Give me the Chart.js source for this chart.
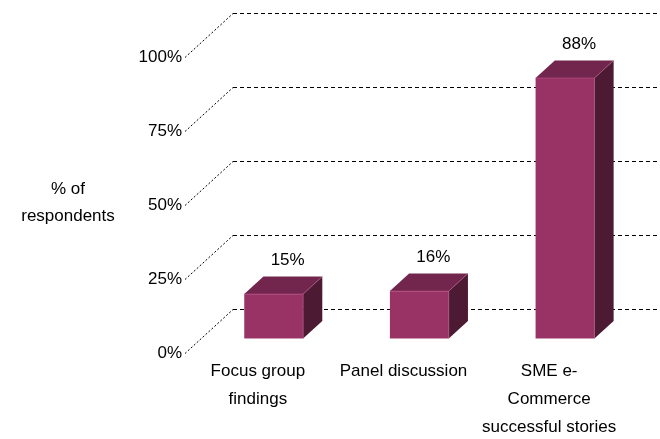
<!DOCTYPE html>
<html>
<head>
<meta charset="utf-8">
<script src="https://cdn.jsdelivr.net/npm/chart.js@4"></script>
<style>
  html, body { margin: 0; padding: 0; background: #fff; }
  #wrap { width: 660px; height: 439px; }
</style>
</head>
<body>
<div id="wrap"><canvas id="chart"></canvas></div>
<script>
const categories = [["Focus group", "findings"], ["Panel discussion"], ["SME e-", "Commerce", "successful stories"]];
const respondents = [15, 16, 88];
const yTicks = [0, 25, 50, 75, 100];
const axisTitle = ["% of", "respondents"];

const FONT = "'Liberation Sans', Arial, sans-serif";
const FRONT = "#993366";
const TOP = "#73264d";
const SIDE = "#4d1a33";

// the box depth of the whole plot, and where the bars sit inside it
const DEPTH_X = 48, DEPTH_Y = -44;
const BAR_START = 0.33, BAR_DEPTH = 0.4;

const box3d = {
  id: "box3d",
  beforeDatasetsDraw(chart) {
    const { ctx, chartArea: a, scales: { y } } = chart;
    ctx.save();
    ctx.strokeStyle = "#000";
    ctx.lineWidth = 1;
    yTicks.forEach(v => {
      const py = Math.round(y.getPixelForValue(v)) + 0.5;
      // dotted diagonal from the front edge back to the wall
      ctx.setLineDash([2, 2]);
      ctx.beginPath();
      ctx.moveTo(a.left, py);
      ctx.lineTo(a.left + DEPTH_X, py + DEPTH_Y);
      ctx.stroke();
      // dashed gridline along the back wall
      ctx.setLineDash([4, 3]);
      ctx.beginPath();
      ctx.moveTo(a.left + DEPTH_X, py + DEPTH_Y);
      ctx.lineTo(a.right + DEPTH_X, py + DEPTH_Y);
      ctx.stroke();
    });
    ctx.restore();
  },
  afterDatasetsDraw(chart) {
    const { ctx } = chart;
    const meta = chart.getDatasetMeta(0);
    const ox = DEPTH_X * BAR_START, oy = DEPTH_Y * BAR_START;
    const dx = DEPTH_X * BAR_DEPTH, dy = DEPTH_Y * BAR_DEPTH;
    ctx.save();
    meta.data.forEach((bar, i) => {
      const p = bar.getProps(["x", "y", "base", "width"], true);
      const l = p.x - p.width / 2 + ox, r = p.x + p.width / 2 + ox;
      const t = p.y + oy, b = p.base + oy;
      // front
      ctx.fillStyle = FRONT;
      ctx.fillRect(l, t, r - l, b - t);
      // top
      ctx.fillStyle = TOP;
      ctx.beginPath();
      ctx.moveTo(l, t);
      ctx.lineTo(l + dx, t + dy);
      ctx.lineTo(r + dx, t + dy);
      ctx.lineTo(r, t);
      ctx.closePath();
      ctx.fill();
      // side
      ctx.fillStyle = SIDE;
      ctx.beginPath();
      ctx.moveTo(r, t);
      ctx.lineTo(r + dx, t + dy);
      ctx.lineTo(r + dx, b + dy);
      ctx.lineTo(r, b);
      ctx.closePath();
      ctx.fill();
      // soft light edges
      ctx.strokeStyle = "rgba(190,90,140,0.55)";
      ctx.lineWidth = 1;
      ctx.beginPath();
      ctx.moveTo(l, t);
      ctx.lineTo(r, t);
      ctx.lineTo(r + dx, t + dy);
      ctx.moveTo(r, t);
      ctx.lineTo(r, b);
      ctx.stroke();
      // value label above the box
      ctx.fillStyle = "#000";
      ctx.font = "17px " + FONT;
      ctx.textAlign = "center";
      ctx.textBaseline = "middle";
      ctx.fillText(respondents[i] + "%", p.x + ox + 14, t + dy - 16);
    });
    // horizontal y axis title
    ctx.font = "17px " + FONT;
    ctx.textAlign = "center";
    ctx.fillStyle = "#000";
    ctx.fillText(axisTitle[0], 68, 189);
    ctx.fillText(axisTitle[1], 68, 216);
    ctx.restore();
  }
};

new Chart(document.getElementById("chart"), {
  type: "bar",
  data: {
    labels: categories,
    datasets: [{
      data: respondents,
      backgroundColor: "rgba(0,0,0,0)",
      barPercentage: 0.404,
      categoryPercentage: 1
    }]
  },
  options: {
    responsive: true,
    maintainAspectRatio: false,
    animation: false,
    layout: { padding: { top: 57, right: 38, left: 0, bottom: 0 } },
    plugins: {
      legend: { display: false },
      tooltip: { enabled: false }
    },
    scales: {
      x: {
        grid: { display: false, drawTicks: false },
        border: { display: false },
        ticks: {
          color: "#000",
          maxRotation: 0,
          padding: 4,
          font: { family: FONT, size: 17, lineHeight: 1.65 }
        },
        afterFit: s => { s.height = 86; }
      },
      y: {
        min: 0,
        max: 100,
        afterBuildTicks: s => { s.ticks = yTicks.map(v => ({ value: v })); },
        grid: { display: false, drawTicks: false },
        border: { display: false },
        ticks: {
          color: "#000",
          padding: 3,
          font: { family: FONT, size: 17 },
          callback: v => v + "%"
        },
        afterFit: s => { s.width = 185; }
      }
    }
  },
  plugins: [box3d]
});
</script>
</body>
</html>
